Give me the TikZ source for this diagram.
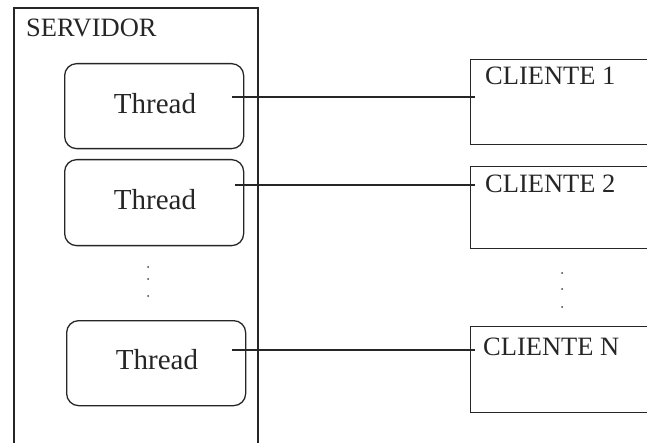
\documentclass[tikz,border=0pt]{standalone}
\usepackage{fontspec}
\setmainfont{Liberation Serif}
\begin{document}
\begin{tikzpicture}[x=1pt,y=-1pt,
  frame/.style={draw=black!85,line width=1.3pt},
  threadbox/.style={frame,rounded corners=12pt,anchor=north west,inner sep=0pt},
  clientbox/.style={frame,anchor=north west,inner sep=0pt},
  lbl/.style={font=\fontsize{26.5}{30}\selectfont,text=black!85,inner sep=0pt,anchor=west},
  tlbl/.style={font=\fontsize{29}{32}\selectfont,text=black!85,inner sep=0pt},
  link/.style={draw=black!85,line width=1.3pt},
  vdot/.style={fill=black!75,circle,inner sep=0pt,minimum size=2pt}]
\useasboundingbox (0,0) rectangle (647,443);
\clip (0,0) rectangle (647,443);
\fill[white] (0,0) rectangle (647,443);

% server frame (runs past the bottom edge)
\draw[frame] (14,460) -- (14,8) -- (258,8) -- (258,460);
\node[lbl] (srv) at (26,28) {SERVIDOR};

% threads
\node[threadbox,minimum width=179pt,minimum height=85pt] (t1) at (64,63) {};
\node[threadbox,minimum width=179pt,minimum height=86pt] (t2) at (64,159) {};
\node[threadbox,minimum width=179pt,minimum height=85pt] (t3) at (66,320) {};
\node[tlbl] (tx1) at (155,104) {Thread};
\node[tlbl] (tx2) at (155,200) {Thread};
\node[tlbl] (tx3) at (157,360) {Thread};
\node[vdot] (sd1) at (148,267) {};
\node[vdot] (sd2) at (148,279) {};
\node[vdot] (sd3) at (148,296) {};

% clients (run past the right edge)
\node[clientbox,minimum width=200pt,minimum height=85pt] (c1) at (470,59) {};
\node[clientbox,minimum width=200pt,minimum height=82pt] (c2) at (470,166) {};
\node[clientbox,minimum width=200pt,minimum height=86pt] (c3) at (470,326) {};
\node[lbl] (l1) at (485,76) {CLIENTE 1};
\node[lbl] (l2) at (485,184) {CLIENTE 2};
\node[lbl] (l3) at (483,347) {CLIENTE N};
\node[vdot] (cd1) at (562,273) {};
\node[vdot] (cd2) at (562,289) {};
\node[vdot] (cd3) at (562,307) {};

% connections
\coordinate (p1) at (232,97);
\coordinate (p2) at (235,185);
\coordinate (p3) at (232,350);
\draw[link] (p1) -- (p1 -| c1.west) -- ++(5,0);
\draw[link] (p2) -- (p2 -| c2.west) -- ++(5,0);
\draw[link] (p3) -- (p3 -| c3.west) -- ++(5,0);
\end{tikzpicture}
\end{document}
